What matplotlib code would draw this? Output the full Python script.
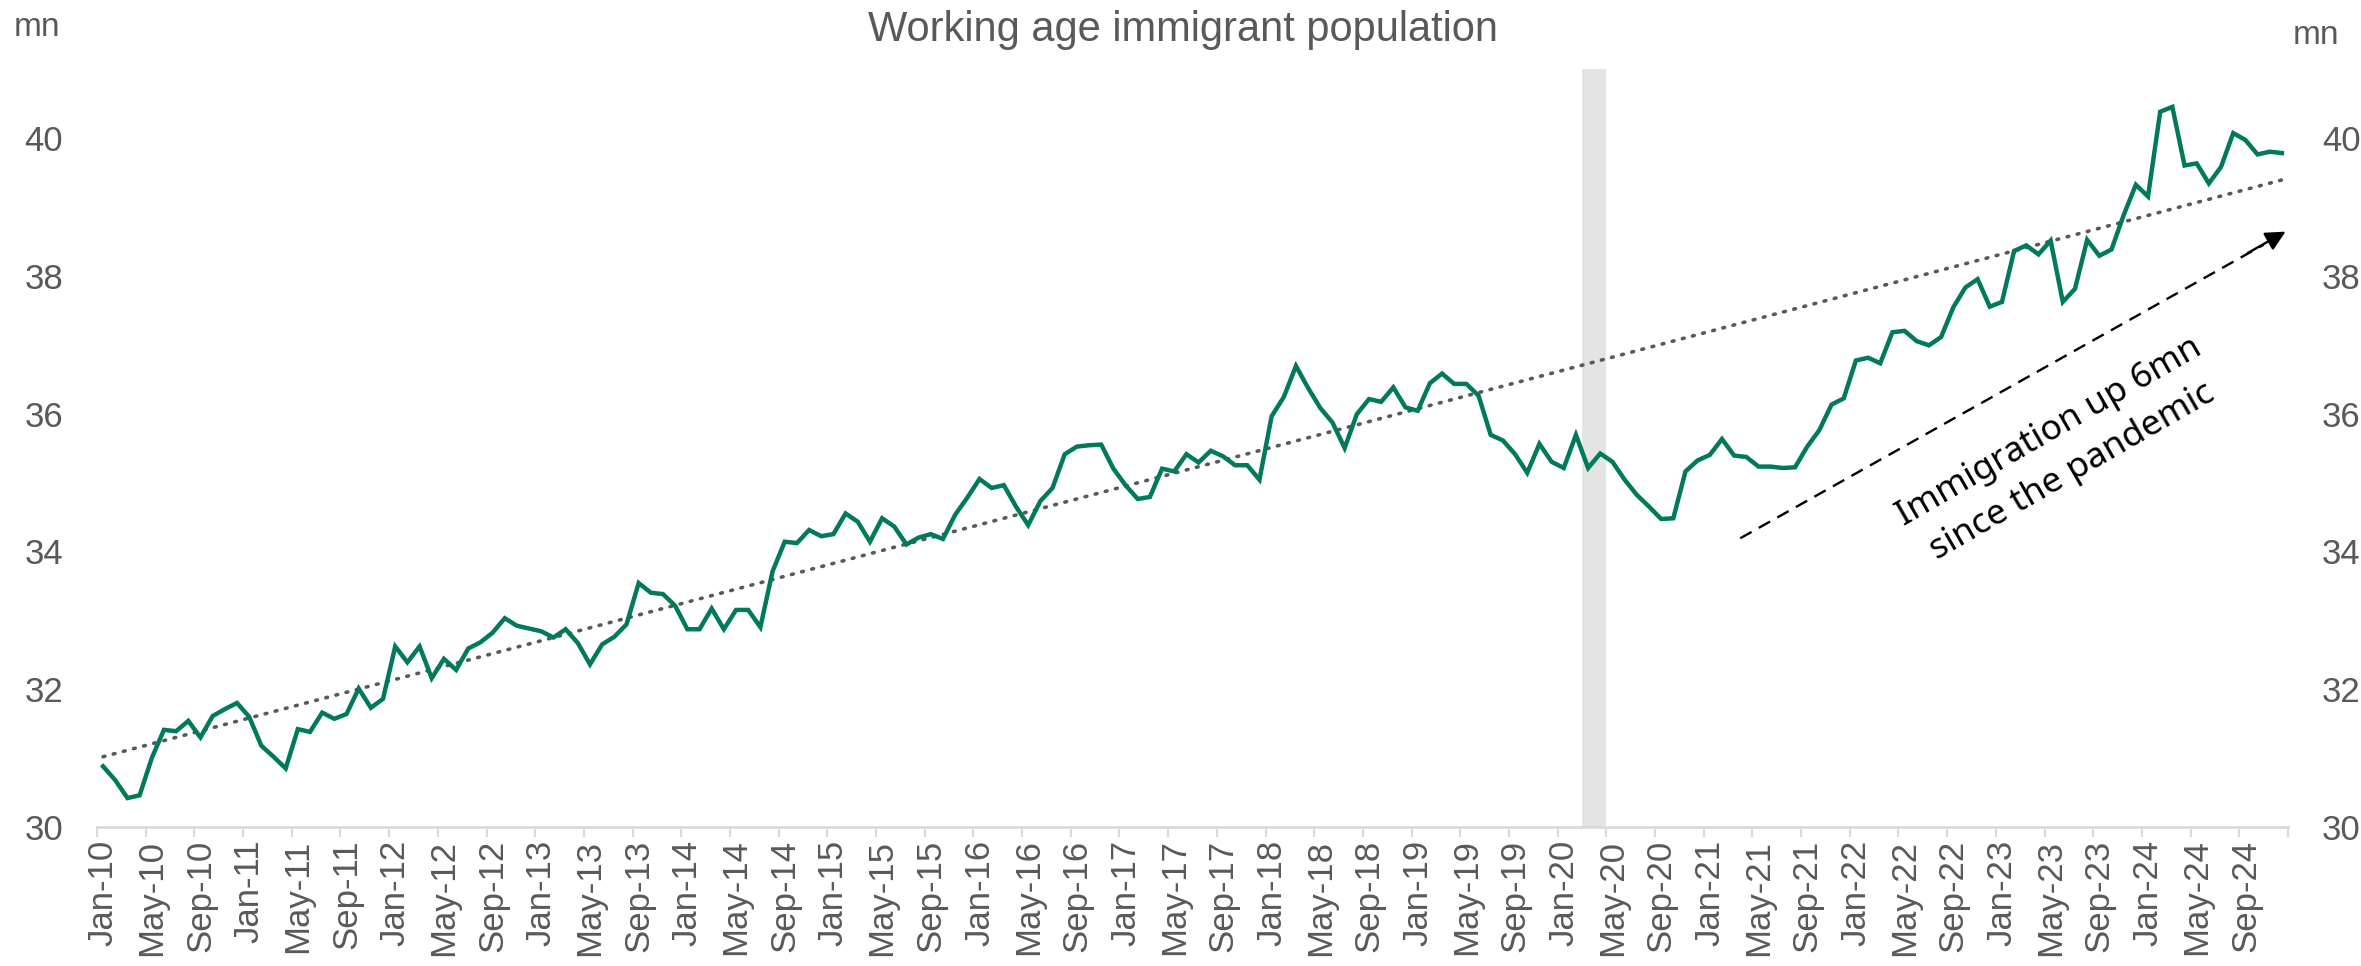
import matplotlib
matplotlib.use('Agg')
import matplotlib.pyplot as plt
import pandas as pd
import numpy as np

# monthly working age immigrant population, mn (Jan-10 .. Dec-24)
months = pd.date_range('2010-01-01', periods=180, freq='MS')
pop = [30.88, 30.68, 30.42, 30.46, 31.00, 31.41, 31.39, 31.54, 31.30, 31.61, 31.71, 31.80,
       31.60, 31.18, 31.02, 30.85, 31.42, 31.38, 31.66, 31.57, 31.64, 32.01, 31.73, 31.86,
       32.62, 32.39, 32.62, 32.16, 32.44, 32.28, 32.59, 32.68, 32.82, 33.03, 32.92, 32.88,
       32.84, 32.75, 32.87, 32.67, 32.36, 32.65, 32.76, 32.94, 33.54, 33.40, 33.38, 33.21,
       32.87, 32.87, 33.17, 32.87, 33.15, 33.15, 32.90, 33.71, 34.14, 34.12, 34.31, 34.22,
       34.25, 34.55, 34.43, 34.14, 34.48, 34.36, 34.10, 34.20, 34.25, 34.18, 34.53, 34.78,
       35.05, 34.92, 34.96, 34.65, 34.38, 34.73, 34.92, 35.41, 35.52, 35.54, 35.55, 35.20,
       34.96, 34.76, 34.79, 35.20, 35.16, 35.41, 35.29, 35.46, 35.38, 35.25, 35.25, 35.04,
       35.96, 36.24, 36.69, 36.37, 36.08, 35.87, 35.50, 35.99, 36.21, 36.17, 36.38, 36.09,
       36.04, 36.44, 36.58, 36.43, 36.43, 36.26, 35.69, 35.61, 35.41, 35.14, 35.56, 35.30,
       35.21, 35.69, 35.21, 35.42, 35.30, 35.04, 34.82, 34.65, 34.47, 34.48, 35.16, 35.32,
       35.40, 35.63, 35.39, 35.37, 35.23, 35.23, 35.21, 35.22, 35.52, 35.76, 36.13, 36.22,
       36.77, 36.81, 36.73, 37.18, 37.20, 37.05, 36.99, 37.11, 37.54, 37.83, 37.95, 37.55,
       37.62, 38.36, 38.44, 38.31, 38.51, 37.62, 37.81, 38.52, 38.29, 38.38, 38.88, 39.32,
       39.15, 40.38, 40.45, 39.60, 39.63, 39.34, 39.58, 40.07, 39.97, 39.76, 39.80, 39.78]
trend = [31.02, 39.39]          # linear trend at first and last month
shade = ('2020-03-01', '2020-05-01')
yticks = [30, 32, 34, 36, 38, 40]

green = '#007A5A'
grey = '#595959'
plt.rcParams['font.family'] = ['Liberation Sans', 'DejaVu Sans']

W, H = 2361, 966
fig = plt.figure(figsize=(W / 100, H / 100), dpi=100)
ax = fig.add_axes([97 / W, 1 - 827 / H, (2288 - 97) / W, (827 - 69) / H])

# points sit in the middle of each month slot
x = np.arange(len(pop)) + 0.5
ax.axvspan(months.get_loc(pd.Timestamp(shade[0])), months.get_loc(pd.Timestamp(shade[1])),
           color='#E4E4E4', lw=0, zorder=0)
ax.plot(x, pop, color=green, lw=3.2, zorder=3, solid_joinstyle='miter')

# trend line
ax.plot(x[[0, -1]], trend, color=grey, lw=2.6,
        linestyle=(0, (0.5, 2.4)), dash_capstyle='round', zorder=2)

# annotation arrow
ax.plot([135.0, 178.0], [34.19, 38.45], color='black', lw=1.7, linestyle=(0, (5.5, 3.5)))
ax.annotate('', xy=(180.0, 38.66), xytext=(176.5, 38.31),
            arrowprops=dict(arrowstyle='-|>,head_length=1.2,head_width=0.6', color='black', lw=1.7))
ax.text(161.3, 35.45, 'Immigration up 6mn\nsince the pandemic', rotation=30,
        rotation_mode='anchor', ha='center', va='center', fontsize=25.5,
        family=['Noto Sans', 'DejaVu Sans'], color='black', linespacing=1.45)

ax.set_xlim(0, 180)
ax.set_ylim(30, 41)
ax.set_yticks(yticks)
ax.tick_params(axis='y', left=False, right=False, labelleft=True, labelright=True,
               labelsize=25, labelcolor=grey, pad=21)

lab_idx = np.arange(0, 180, 4)
ax.set_xticks(lab_idx + 0.5)
ax.set_xticklabels(months[lab_idx].strftime('%b-%y'), rotation=90)
ax.set_xticks(np.arange(0, 181, 4), minor=True)
ax.tick_params(axis='x', which='major', length=0, labelsize=25, labelcolor=grey, pad=9)
ax.tick_params(axis='x', which='minor', length=7.5, width=1.5, color='#D9D9D9')

for s in ['left', 'right', 'top']:
    ax.spines[s].set_visible(False)
ax.spines['bottom'].set_color('#D9D9D9')
ax.spines['bottom'].set_linewidth(2)

fig.text(1183 / W, 1 - 30 / H, 'Working age immigrant population', ha='center', va='center',
         fontsize=30, color=grey)
fig.text(37 / W, 1 - 28 / H, 'mn', ha='center', va='center', fontsize=24, color=grey)
fig.text(2316 / W, 1 - 35 / H, 'mn', ha='center', va='center', fontsize=24, color=grey)

plt.savefig('out.png', dpi=100)
